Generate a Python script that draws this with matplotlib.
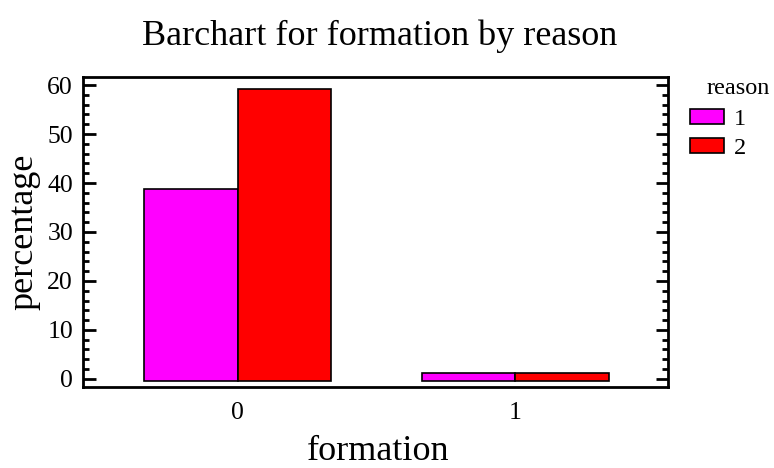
import matplotlib
matplotlib.use("Agg")
import matplotlib.pyplot as plt
import numpy as np
from matplotlib.ticker import MultipleLocator
from matplotlib.patches import Patch

plt.rcParams['font.family'] = ['Liberation Serif', 'DejaVu Serif']

formation = ["0", "1"]
reasons = ["1", "2"]
pct_reason1 = [38.7, 1.3]
pct_reason2 = [59.1, 1.3]
colors = ["#ff00ff", "#ff0000"]
baseline = -0.4

fig = plt.figure(figsize=(7.74, 4.68), dpi=100)
ax = fig.add_axes([0.107, 0.174, 0.756, 0.662])

x = np.arange(len(formation))
w = 0.335
for i, (vals, c) in enumerate(zip([pct_reason1, pct_reason2], colors)):
    vals = np.array(vals)
    ax.bar(x + (i - 0.5) * w, vals - baseline, bottom=baseline, width=w,
           color=c, edgecolor="black", linewidth=1.2, zorder=3)

ax.set_xlim(-0.557, 1.549)
ax.set_ylim(-1.57, 61.7)
ax.set_xticks(x)
ax.set_xticklabels(formation)
ax.set_yticks(np.arange(0, 61, 10))
ax.yaxis.set_minor_locator(MultipleLocator(2))
ax.tick_params(axis='x', length=0, pad=11, labelsize=18.5)
ax.tick_params(axis='y', which='major', direction='in', length=9, width=2,
               left=True, right=True, pad=7, labelsize=18.5)
ax.tick_params(axis='y', which='minor', direction='in', length=4.5, width=2,
               left=True, right=True)
for s in ax.spines.values():
    s.set_linewidth(2)

ax.set_title("Barchart for formation by reason", fontsize=26, pad=23, x=0.508)
ax.set_xlabel("formation", fontsize=26, labelpad=8, x=0.505)
ax.set_ylabel("percentage", fontsize=26, labelpad=5)

handles = [Patch(facecolor=c, edgecolor="black", linewidth=1.2) for c in colors]
fig.legend(handles, reasons, loc='upper left', bbox_to_anchor=(0.892, 0.767),
           frameon=False, fontsize=17.5, handlelength=1.4, handleheight=0.6,
           handletextpad=0.4, labelspacing=0.3, borderpad=0, borderaxespad=0)
fig.text(0.913, 0.810, "reason", fontsize=17.5, ha='left', va='center')

fig.savefig("out.png", dpi=100)
